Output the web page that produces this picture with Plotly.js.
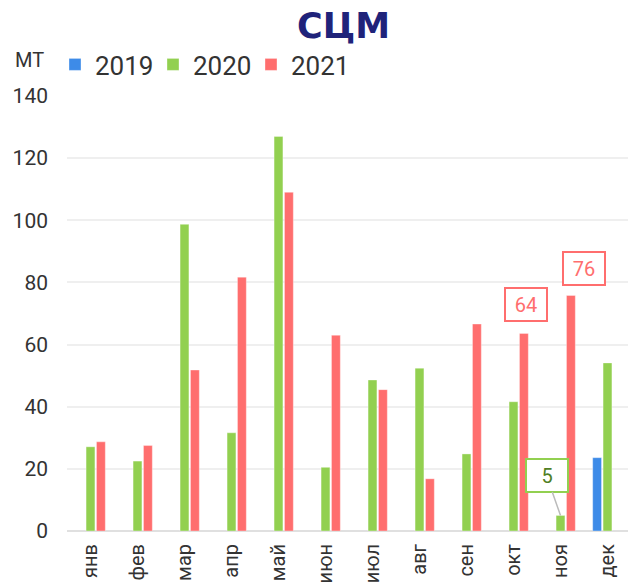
<!DOCTYPE html>
<html>
<head>
<meta charset="utf-8">
<script src="https://cdn.plot.ly/plotly-3.0.1.min.js"></script>
<style>
html,body{margin:0;padding:0;overflow:hidden;background:#fff;width:628px;height:583px;}
#chart{width:640px;height:583px;}
</style>
</head>
<body>
<div id="chart"></div>
<script>
const months = ["янв","фев","мар","апр","май","июн","июл","авг","сен","окт","ноя","дек"];
const v2019 = [null,null,null,null,null,null,null,null,null,null,null,23.6];
const v2020 = [27.1,22.5,98.7,31.6,127.0,20.5,48.6,52.4,24.8,41.6,5.0,54.1];
const v2021 = [28.7,27.5,51.8,81.7,109.0,63.0,45.5,16.8,66.6,63.6,75.8,null];
const yTicks = [0,20,40,60,80,100,120,140];

const cBlue = "#3d8be8", cGreen = "#92d050", cRed = "#ff6e6e";
const mk = (name, y, color) => ({
  type: "bar", name: name, x: months, y: y,
  marker: {color: color, line: {color: "rgba(255,255,255,0.35)", width: 1}},
  hoverinfo: "skip"
});
const data = [mk("2019", v2019, cBlue), mk("2020", v2020, cGreen), mk("2021", v2021, cRed)];

const slot = 10.4;
function boxAnn(month, vals, shift, color, textColor, ax, ay, arrow) {
  const i = months.indexOf(month);
  return {
    x: month, y: vals[i], xref: "x", yref: "y", xshift: shift,
    text: String(Math.round(vals[i])),
    showarrow: true, arrowhead: 0, arrowwidth: 1.5,
    arrowcolor: arrow ? "#bbbbbb" : "rgba(0,0,0,0)",
    ax: ax, ay: ay,
    font: {family: "Roboto", size: 20, color: textColor},
    bgcolor: "#ffffff", bordercolor: color, borderwidth: 2, borderpad: 3,
    width: 34, height: 25
  };
}

const layout = {
  width: 640, height: 583,
  margin: {l: 66.7, r: 9.3, t: 95.7, b: 51.5},
  paper_bgcolor: "#fff", plot_bgcolor: "#fff",
  font: {family: "Roboto", color: "#333"},
  title: {
    text: "<b>СЦМ</b>", font: {family: "DejaVu Sans", size: 35, color: "#1f237a"},
    x: 343.5/640, xref: "container", xanchor: "center",
    y: 1 - 26/583, yref: "container", yanchor: "middle"
  },
  barmode: "group", bargap: 0.336, bargroupgap: 0.15,
  showlegend: true,
  legend: {
    orientation: "h", x: -12/564, xanchor: "left", y: 1 + 8/435.8, yanchor: "bottom", yref: "paper",
    font: {family: "Roboto", size: 26, color: "#333"}, entrywidth: 53,
    traceorder: "normal", bgcolor: "rgba(0,0,0,0)"
  },
  xaxis: {
    type: "category", tickangle: -90, showgrid: false, showline: false, zeroline: false,
    ticks: "", tickfont: {family: "Roboto", size: 20, color: "#333"}, ticklabelstandoff: 8
  },
  yaxis: {
    range: [0, 140], tickvals: yTicks, ticktext: yTicks.map(String),
    showgrid: true, gridcolor: "#efefef", gridwidth: 2,
    zeroline: true, zerolinecolor: "#e0e0e0", zerolinewidth: 2,
    showline: false, ticks: "", ticklabelstandoff: 18,
    tickfont: {family: "Roboto", size: 21, color: "#333"}
  },
  annotations: [
    {text: "МТ", xref: "paper", yref: "paper", x: 0, y: 1, xanchor: "right", yanchor: "middle",
     xshift: -21.5, yshift: 36, showarrow: false, font: {family: "Roboto", size: 20, color: "#333"}},
    boxAnn("окт", v2021, slot, cRed, cRed, 2, -29, false),
    boxAnn("ноя", v2021, slot, cRed, cRed, 13, -27, false),
    boxAnn("ноя", v2020, 0, cGreen, "#4f7f25", -14, -40, true)
  ]
};

Plotly.newPlot("chart", data, layout, {staticPlot: true, displayModeBar: false});
</script>
</body>
</html>
